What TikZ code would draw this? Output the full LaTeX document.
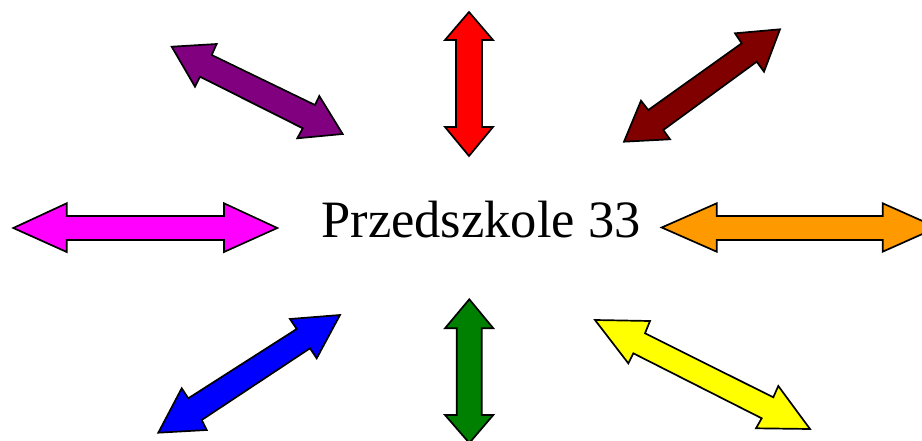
\documentclass[tikz,border=0pt]{standalone}
\usepackage{fontspec}
\setmainfont{Liberation Serif}
\begin{document}
\begin{tikzpicture}[x=1pt,y=-1pt,
  arr/.style={draw=black,line width=1.7pt,line join=miter}]
\useasboundingbox (0,0) rectangle (922,441);
\clip (0,0) rectangle (922,441);
\definecolor{cpurple}{RGB}{128,0,128}
\definecolor{cred}{RGB}{255,0,0}
\definecolor{cdred}{RGB}{128,0,0}
\definecolor{cmag}{RGB}{255,0,255}
\definecolor{corange}{RGB}{255,153,0}
\definecolor{cblue}{RGB}{0,0,255}
\definecolor{cgreen}{RGB}{0,128,0}
\definecolor{cyellow}{RGB}{255,255,0}
% centre text
\node[anchor=base,inner sep=0pt,font=\fontsize{52.5}{62}\selectfont] (title) at (481,238) {Przedszkole 33};
% purple (upper left)
\path[arr,fill=cpurple] (171.7,46.7) -- (216.7,44) -- (211.7,55) -- (315,105) -- (319.3,96) -- (342.7,134) -- (297.3,138.3) -- (302.7,128.3) -- (200,76.7) -- (195,86.7) -- cycle;
% red (top)
\path[arr,fill=cred] (469,12) -- (493,40) -- (482,40) -- (482,127) -- (493,127) -- (469,156) -- (445,127) -- (456,127) -- (456,40) -- (445,40) -- cycle;
% dark red (upper right)
\path[arr,fill=cdred] (780,29.3) -- (735,33.3) -- (741.7,43.3) -- (648.3,110) -- (641,100.7) -- (624,141.7) -- (670,139.3) -- (663.3,130) -- (756.7,61.7) -- (764,71.7) -- cycle;
% magenta (left)
\path[arr,fill=cmag] (13.3,228) -- (66.7,203.3) -- (66.7,216) -- (224,216) -- (224,203.3) -- (277.3,228) -- (224,252) -- (224,240) -- (66.7,240) -- (66.7,252) -- cycle;
% orange (right)
\path[arr,fill=corange] (661.7,227.5) -- (716.7,203.3) -- (716.7,216) -- (882.7,216) -- (882.7,203.3) -- (937,227.5) -- (882.7,251.7) -- (882.7,240) -- (716.7,240) -- (716.7,251.7) -- cycle;
% blue (lower left)
\path[arr,fill=cblue] (340,315) -- (290,319) -- (296.7,329) -- (188.3,398.3) -- (181.7,388.3) -- (158.3,432.7) -- (206.7,430) -- (201.7,420) -- (310,348.3) -- (316.7,358.3) -- cycle;
% green (bottom)
\path[arr,fill=cgreen] (469.3,299.3) -- (493.3,328.3) -- (481.7,328.3) -- (481.7,415) -- (493.3,415) -- (469.3,443) -- (445,415) -- (456.7,415) -- (456.7,328.3) -- (445,328.3) -- cycle;
% yellow (lower right)
\path[arr,fill=cyellow] (595,320) -- (650,321) -- (645,333.3) -- (773.3,397.3) -- (778.3,386) -- (810,429) -- (756,428.3) -- (761.7,418.3) -- (633.3,353.3) -- (628.3,363.3) -- cycle;
\end{tikzpicture}
\end{document}
